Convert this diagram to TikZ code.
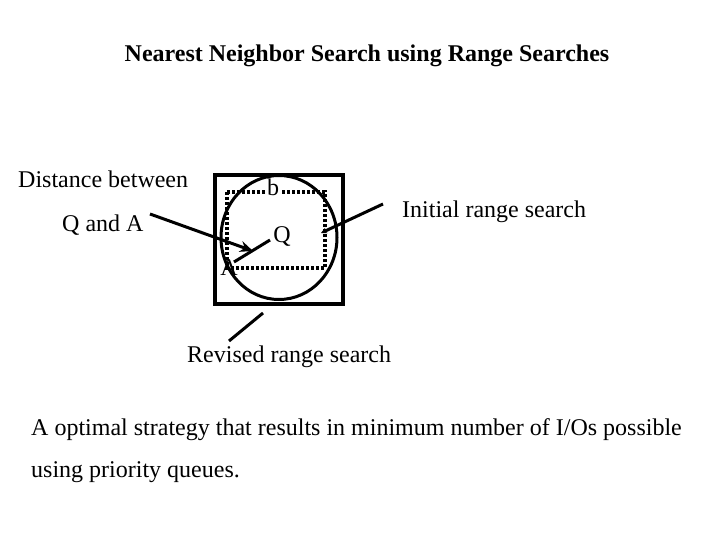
\documentclass[tikz,border=0pt]{standalone}
\usepackage{fontspec}
\setmainfont{Liberation Serif}
\usetikzlibrary{arrows.meta,positioning}
\newcommand{\slidefont}{\fontsize{24}{28}\selectfont}
\tikzset{
  txt/.style={font=\slidefont, inner sep=0pt, anchor=base west},
  outerbox/.style={draw, line width=4pt},
  searchoval/.style={draw, line width=3pt},
  dotbox/.style={draw, line width=3.5pt, dash pattern=on 3pt off 2pt},
  arr/.style={line width=3pt, -{Stealth[length=13pt,width=11pt]}},
  bar/.style={line width=3pt},
}
\begin{document}
\begin{tikzpicture}[x=1pt, y=-1pt]
    \useasboundingbox (0,0) rectangle (720,540);
    \node[font=\slidefont\bfseries, inner sep=0pt, anchor=base] (title) at (367,62)
      {Nearest Neighbor Search using Range Searches};
    % range searches
    \draw[outerbox] (215,175) rectangle (343,304);
    \draw[dotbox] (227,192) rectangle (325,268);
    \draw[searchoval] (279,237.5) ellipse [x radius=58pt, y radius=62pt];
    \node[font=\slidefont, inner sep=0.5pt, fill=white] (b) at (273,187) {b};
    \node[font=\slidefont, inner sep=0pt] (q) at (282,237) {Q};
    \node[font=\slidefont, inner sep=0pt] (a) at (229,268) {A};
    \coordinate (qa) at (234,262);
    \coordinate (qq) at (270,240);
    \draw[bar] (qa) -- (qq);
    % labels
    \node[txt] (dist) at (18,188) {Distance between};
    \node[txt] (qanda) at (62,231) {Q and A};
    \node[txt] (init) at (402,218) {Initial range search};
    \node[txt] (rev) at (187,362) {Revised range search};
    \node[txt] (opt) at (31,435) {A optimal strategy that results in minimum number of I/Os possible};
    \node[txt] (prio) at (31,477) {using priority queues.};
    % pointers
    \coordinate (diststart) at (150,214);
    \coordinate (distend) at (253,251);
    \coordinate (initstart) at (383,204);
    \coordinate (initend) at (321,233);
    \coordinate (revstart) at (229,341);
    \coordinate (revend) at (263,313);
    \draw[arr] (diststart) -- (distend);
    \draw[line width=3pt, -{Stealth[length=6pt,width=6pt]}] (initstart) -- (initend);
    \draw[bar] (revstart) -- (revend);
\end{tikzpicture}
\end{document}
